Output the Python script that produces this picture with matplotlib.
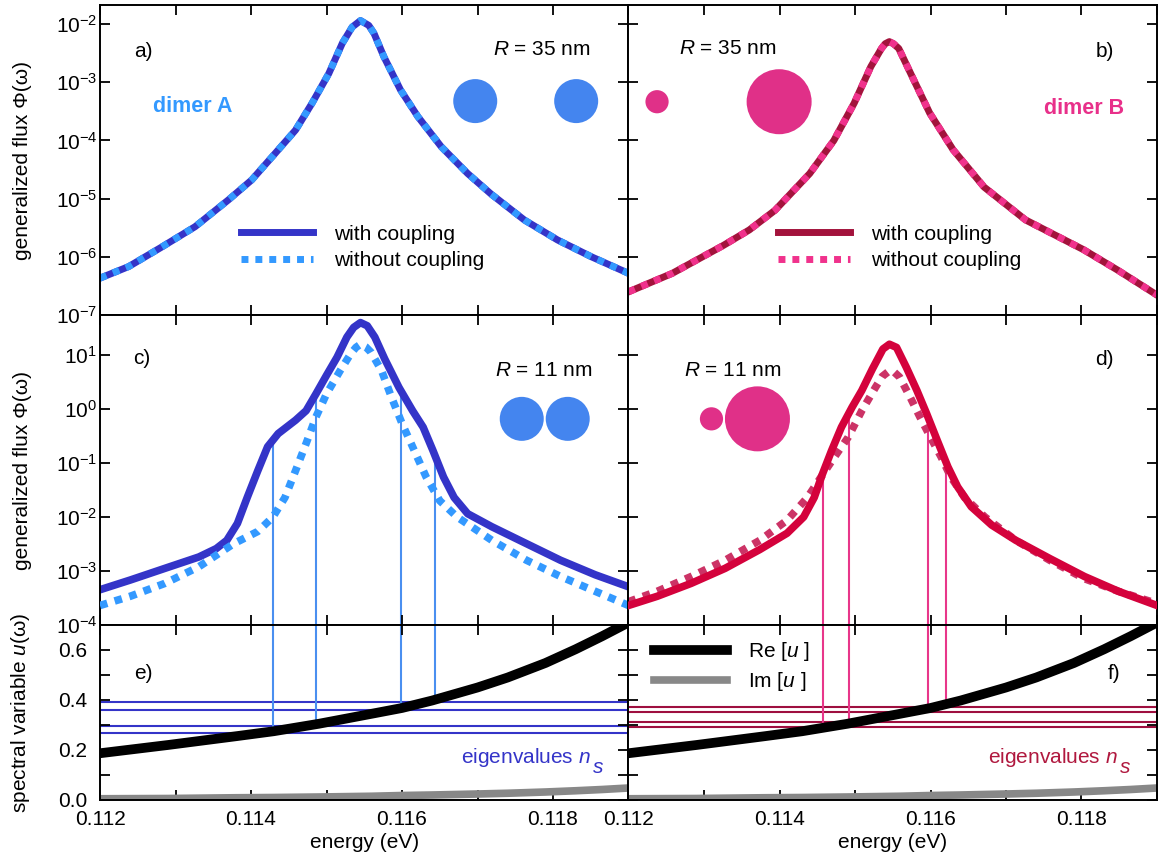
import numpy as np
import matplotlib.pyplot as plt
from matplotlib.patches import Ellipse
from matplotlib.ticker import FixedLocator, NullLocator, LogLocator, FormatStrFormatter

plt.rcParams['font.family'] = ['Liberation Sans', 'DejaVu Sans']
plt.rcParams['mathtext.fontset'] = 'custom'
plt.rcParams['mathtext.rm'] = 'Liberation Sans'
plt.rcParams['mathtext.it'] = 'Liberation Sans:italic'
plt.rcParams['mathtext.bf'] = 'Liberation Sans:bold'
plt.rcParams['font.size'] = 15

# ---- data ----
# a) dimer A, R = 35 nm (with / without coupling coincide)
energy_a = [0.11200, 0.11238, 0.11282, 0.11326, 0.11370, 0.11401, 0.11432, 0.11459,
            0.11481, 0.11503, 0.11521, 0.11534, 0.11545, 0.11556, 0.11563, 0.11576,
            0.11598, 0.11621, 0.11652, 0.11687, 0.11718, 0.11762, 0.11806, 0.11851,
            0.11900]
flux_a = [4.3e-7, 6.8e-7, 1.48e-6, 3.3e-6, 9.5e-6, 2.1e-5, 6.0e-5, 1.51e-4,
          4.4e-4, 1.41e-3, 4.7e-3, 8.9e-3, 1.15e-2, 9.5e-3, 6.9e-3, 2.75e-3,
          7.4e-4, 2.57e-4, 7.8e-5, 2.7e-5, 1.2e-5, 4.3e-6, 1.95e-6, 1.0e-6,
          5.2e-7]

# b) dimer B, R = 35 nm
energy_b = [0.11200, 0.11258, 0.11326, 0.11360, 0.11394, 0.11440, 0.11472, 0.11499,
            0.11521, 0.11535, 0.11540, 0.115455, 0.11551, 0.11558, 0.11576, 0.11599,
            0.11630, 0.11671, 0.11726, 0.11803, 0.11848, 0.11900]
flux_b = [2.5e-7, 5.2e-7, 1.58e-6, 2.9e-6, 6.3e-6, 2.7e-5, 1.0e-4, 4.4e-4,
          1.86e-3, 3.8e-3, 4.6e-3, 5.0e-3, 4.6e-3, 3.8e-3, 1.23e-3, 2.95e-4,
          6.9e-5, 1.58e-5, 4.3e-6, 1.32e-6, 5.9e-7, 2.2e-7]

# c) dimer A, R = 11 nm
energy_c_with = [0.11200, 0.11240, 0.11286, 0.11331, 0.11354, 0.11368, 0.11382, 0.11395,
                 0.11409, 0.11422, 0.11436, 0.11459, 0.11473, 0.11486, 0.11500, 0.11514,
                 0.11527, 0.11536, 0.11545, 0.11554, 0.11564, 0.11577, 0.11596, 0.11614,
                 0.11628, 0.11641, 0.11655, 0.11669, 0.11687, 0.11719, 0.11765, 0.11810,
                 0.11856, 0.11900]
flux_c_with = [4.5e-4, 6.8e-4, 1.12e-3, 1.82e-3, 2.6e-3, 3.7e-3, 7.6e-3, 2.3e-2,
               7.2e-2, 0.20, 0.35, 0.62, 0.93, 1.9, 4.2, 9.1,
               21.4, 32.4, 39.8, 34.7, 21.4, 8.5, 2.5, 0.93,
               0.46, 0.17, 5.5e-2, 2.3e-2, 1.15e-2, 6.6e-3, 3.2e-3, 1.58e-3,
               8.5e-4, 5.1e-4]
energy_c_without = [0.11200, 0.11240, 0.11286, 0.11331, 0.11377, 0.11409, 0.11429, 0.11445,
                    0.11459, 0.11473, 0.11486, 0.11500, 0.11518, 0.11532, 0.11539, 0.11545,
                    0.11552, 0.11559, 0.11573, 0.11586, 0.11600, 0.11614, 0.11632, 0.11650,
                    0.11673, 0.11719, 0.11765, 0.11810, 0.11856, 0.11900]
flux_c_without = [2.3e-4, 3.4e-4, 5.9e-4, 1.2e-3, 3.2e-3, 5.4e-3, 1.0e-2, 2.3e-2,
                  7.2e-2, 0.23, 0.71, 1.9, 5.1, 10.5, 13.8, 15.8,
                  14.1, 11.2, 5.1, 1.66, 0.54, 0.20, 5.5e-2, 2.0e-2,
                  1.0e-2, 3.7e-3, 1.58e-3, 7.9e-4, 4.2e-4, 2.3e-4]

# d) dimer B, R = 11 nm
energy_d_with = [0.11200, 0.11238, 0.11283, 0.11328, 0.11374, 0.11410, 0.11432, 0.11446,
                 0.11457, 0.11469, 0.11482, 0.11496, 0.11509, 0.11523, 0.11537, 0.115456,
                 0.11555, 0.11568, 0.11582, 0.11595, 0.11609, 0.11623, 0.11636, 0.11654,
                 0.11681, 0.11713, 0.11758, 0.11804, 0.11849, 0.11900]
flux_d_with = [2.3e-4, 3.4e-4, 5.9e-4, 1.12e-3, 2.5e-3, 5.0e-3, 1.0e-2, 2.3e-2,
               6.3e-2, 0.17, 0.46, 1.07, 2.2, 5.5, 12.9, 15.8,
               13.8, 5.9, 2.2, 0.81, 0.26, 8.5e-2, 3.6e-2, 1.55e-2,
               7.1e-3, 3.7e-3, 1.7e-3, 7.9e-4, 4.2e-4, 2.3e-4]
energy_d_without = [0.11200, 0.11238, 0.11283, 0.11328, 0.11374, 0.11410, 0.11437, 0.11455,
                    0.11473, 0.11491, 0.11509, 0.11527, 0.11536, 0.115456, 0.11552, 0.11559,
                    0.11573, 0.11586, 0.11600, 0.11614, 0.11627, 0.11645, 0.11672, 0.11713,
                    0.11758, 0.11804, 0.11849, 0.11900]
flux_d_without = [2.7e-4, 4.2e-4, 7.9e-4, 1.58e-3, 3.7e-3, 8.7e-3, 2.3e-2, 5.5e-2,
                  0.13, 0.30, 0.93, 2.5, 4.0, 5.1, 4.8, 3.9,
                  1.66, 0.71, 0.30, 0.13, 5.5e-2, 2.3e-2, 1.0e-2, 3.7e-3,
                  1.58e-3, 7.2e-4, 4.2e-4, 2.5e-4]

# resonance energies and eigenvalues n_s
res_energy_a = [0.11429, 0.11486, 0.11599, 0.11644]
eig_a = [0.267, 0.297, 0.360, 0.393]
res_energy_b = [0.11458, 0.11492, 0.11597, 0.11621]
eig_b = [0.291, 0.311, 0.353, 0.373]

# e), f) spectral variable u(omega)
energy_u = [0.1120, 0.1129, 0.1138, 0.1143, 0.1149, 0.1156, 0.1160, 0.1164,
            0.1170, 0.1174, 0.1179, 0.1183, 0.11865, 0.1190]
re_u = [0.187, 0.220, 0.255, 0.275, 0.305, 0.345, 0.368, 0.398,
        0.450, 0.490, 0.548, 0.603, 0.655, 0.710]
im_u = [0.005, 0.006, 0.009, 0.010, 0.012, 0.015, 0.018, 0.020,
        0.024, 0.027, 0.032, 0.037, 0.042, 0.048]

# colours
dark_blue = '#3434c8'
light_blue = '#3399ff'
circle_blue = '#4485ef'
maroon = '#a3133c'
crimson = '#d4023c'
pink = '#f0328c'
rose = '#cc3366'
circle_pink = '#e03088'

fig = plt.figure(figsize=(11.58, 8.65), dpi=100)
gs = fig.add_gridspec(3, 2, height_ratios=[310, 310, 175],
                      left=100 / 1158, right=1157 / 1158,
                      top=1 - 5 / 865, bottom=1 - 800 / 865,
                      hspace=0, wspace=0)
ax_a = fig.add_subplot(gs[0, 0])
ax_b = fig.add_subplot(gs[0, 1])
ax_c = fig.add_subplot(gs[1, 0])
ax_d = fig.add_subplot(gs[1, 1])
ax_e = fig.add_subplot(gs[2, 0])
ax_f = fig.add_subplot(gs[2, 1])


def style(ax, log=True, left_labels=True, bottom_labels=False):
    ax.set_xlim(0.112, 0.119)
    ax.xaxis.set_major_locator(FixedLocator([0.112, 0.114, 0.116, 0.118]))
    ax.xaxis.set_minor_locator(FixedLocator([0.113, 0.115, 0.117, 0.119]))
    ax.xaxis.set_major_formatter(FormatStrFormatter('%.3f'))
    if log:
        ax.set_yscale('log')
        ax.yaxis.set_major_locator(LogLocator(base=10, numticks=20))
        ax.yaxis.set_minor_locator(NullLocator())
    ax.tick_params(which='both', direction='in', top=True, right=True,
                   length=7, width=1.3, labelsize=15)
    ax.tick_params(axis='y', pad=2 if log else 9)
    ax.tick_params(axis='x', pad=7)
    ax.tick_params(labelleft=left_labels, labelbottom=bottom_labels)
    for sp in ax.spines.values():
        sp.set_linewidth(1.4)


def circle(ax, xf, yf, r_px, color):
    pos = ax.get_position()
    w = pos.width * fig.get_figwidth() * fig.dpi
    h = pos.height * fig.get_figheight() * fig.dpi
    ax.add_patch(Ellipse((xf, yf), 2 * r_px / w, 2 * r_px / h,
                         transform=ax.transAxes, color=color, lw=0))


def eigen_label(ax, x, color):
    """ 'eigenvalues n_s' with a full size, dropped subscript """
    t = ax.text(x, 0.21, 'eigenvalues $n$', transform=ax.transAxes,
                ha='right', va='baseline', color=color)
    ax.annotate('$s$', xy=(1, 0), xycoords=t, xytext=(0.5, -3),
                textcoords='offset points', ha='left', va='baseline', color=color)


dots = (0, (1, 1))
leg_kw = dict(frameon=False, handlelength=3.5, handletextpad=1.0, labelspacing=0.35,
              borderpad=0, borderaxespad=0, fontsize=15)

# a)
ax_a.plot(energy_a, flux_a, color=dark_blue, lw=5, label='with coupling')
ax_a.plot(energy_a, flux_a, color=light_blue, lw=5, ls=dots, label='without coupling')
ax_a.set_ylim(1e-7, 0.0213)
style(ax_a)
ax_a.set_ylabel('generalized flux Φ(ω)')
ax_a.text(0.082, 0.85, 'a)', transform=ax_a.transAxes, ha='center', va='center')
ax_a.text(0.836, 0.855, '$R$ = 35 nm', transform=ax_a.transAxes, ha='center', va='center')
ax_a.text(0.176, 0.671, 'dimer A', transform=ax_a.transAxes, ha='center', va='center',
          color=light_blue, fontweight='bold', fontsize=15.5)
ax_a.legend(loc='center left', bbox_to_anchor=(0.266, 0.218), **leg_kw)
circle(ax_a, 0.710, 0.690, 22, circle_blue)
circle(ax_a, 0.901, 0.690, 22, circle_blue)

# b)
ax_b.plot(energy_b, flux_b, color=maroon, lw=5, label='with coupling')
ax_b.plot(energy_b, flux_b, color=pink, lw=5, ls=dots, label='without coupling')
ax_b.set_ylim(1e-7, 0.0213)
style(ax_b, left_labels=False)
ax_b.text(0.901, 0.85, 'b)', transform=ax_b.transAxes, ha='center', va='center')
ax_b.text(0.188, 0.86, '$R$ = 35 nm', transform=ax_b.transAxes, ha='center', va='center')
ax_b.text(0.862, 0.667, 'dimer B', transform=ax_b.transAxes, ha='center', va='center',
          color='#e8308a', fontweight='bold', fontsize=15.5)
ax_b.legend(loc='center left', bbox_to_anchor=(0.282, 0.218), **leg_kw)
circle(ax_b, 0.054, 0.688, 11.6, circle_pink)
circle(ax_b, 0.285, 0.688, 32.5, circle_pink)

# c)
top_c = 10 ** np.interp(res_energy_a, energy_c_with, np.log10(flux_c_with))
ax_c.vlines(res_energy_a, 1e-4, top_c, color='#4a8ff0', lw=1.5, zorder=1)
ax_c.plot(energy_c_with, flux_c_with, color=dark_blue, lw=5.5, zorder=2)
ax_c.plot(energy_c_without, flux_c_without, color=light_blue, lw=5.5, ls=dots, zorder=3)
ax_c.set_ylim(1e-4, 55)
style(ax_c)
ax_c.set_ylabel('generalized flux Φ(ω)')
ax_c.text(0.079, 0.86, 'c)', transform=ax_c.transAxes, ha='center', va='center')
ax_c.text(0.840, 0.82, '$R$ = 11 nm', transform=ax_c.transAxes, ha='center', va='center')
circle(ax_c, 0.798, 0.665, 22, circle_blue)
circle(ax_c, 0.885, 0.665, 22, circle_blue)

# d)
top_d = 10 ** np.interp(res_energy_b, energy_d_with, np.log10(flux_d_with))
ax_d.vlines(res_energy_b, 1e-4, top_d, color='#e8368a', lw=1.5, zorder=1)
ax_d.plot(energy_d_without, flux_d_without, color=rose, lw=5.5, ls=dots, zorder=2)
ax_d.plot(energy_d_with, flux_d_with, color=crimson, lw=5.5, zorder=3)
ax_d.set_ylim(1e-4, 55)
style(ax_d, left_labels=False)
ax_d.text(0.901, 0.857, 'd)', transform=ax_d.transAxes, ha='center', va='center')
ax_d.text(0.197, 0.82, '$R$ = 11 nm', transform=ax_d.transAxes, ha='center', va='center')
circle(ax_d, 0.157, 0.665, 11.6, circle_pink)
circle(ax_d, 0.244, 0.665, 32.5, circle_pink)

# e)
ax_e.hlines(eig_a, 0.112, 0.119, color=dark_blue, lw=1.5, zorder=1)
ax_e.vlines(res_energy_a, eig_a, 0.7, color='#4a8ff0', lw=1.5, zorder=1)
ax_e.plot(energy_u, im_u, color='#888888', lw=5.5, zorder=2)
ax_e.plot(energy_u, re_u, color='black', lw=7, zorder=3)
ax_e.set_ylim(0, 0.7)
style(ax_e, log=False, bottom_labels=True)
ax_e.yaxis.set_major_locator(FixedLocator([0.0, 0.2, 0.4, 0.6]))
ax_e.yaxis.set_minor_locator(FixedLocator([0.1, 0.3, 0.5]))
ax_e.yaxis.set_major_formatter(FormatStrFormatter('%.1f'))
ax_e.set_ylabel('spectral variable $u$(ω)')
ax_e.set_xlabel('energy (eV)')
ax_e.text(0.082, 0.724, 'e)', transform=ax_e.transAxes, ha='center', va='center')
eigen_label(ax_e, 0.929, dark_blue)

# f)
ax_f.hlines(eig_b, 0.112, 0.119, color='#9e0f3f', lw=1.5, zorder=1)
ax_f.vlines(res_energy_b, eig_b, 0.7, color='#e8368a', lw=1.5, zorder=1)
ax_f.plot(energy_u, re_u, color='black', lw=7, zorder=3, label='Re [$u$ ]')
ax_f.plot(energy_u, im_u, color='#888888', lw=5.5, zorder=2, label='Im [$u$ ]')
ax_f.set_ylim(0, 0.7)
style(ax_f, log=False, left_labels=False, bottom_labels=True)
ax_f.yaxis.set_major_locator(FixedLocator([0.0, 0.2, 0.4, 0.6]))
ax_f.yaxis.set_minor_locator(FixedLocator([0.1, 0.3, 0.5]))
ax_f.set_xlabel('energy (eV)')
ax_f.text(0.919, 0.724, 'f)', transform=ax_f.transAxes, ha='center', va='center')
eigen_label(ax_f, 0.926, '#b0183e')
ax_f.legend(loc='center left', bbox_to_anchor=(0.049, 0.762), **leg_kw)

for ax in (ax_a, ax_c, ax_e):
    ax.yaxis.set_label_coords(-0.128, 0.5)
for ax in (ax_e, ax_f):
    ax.xaxis.set_label_coords(0.5, -0.19)

fig.savefig('out.png', dpi=100)
